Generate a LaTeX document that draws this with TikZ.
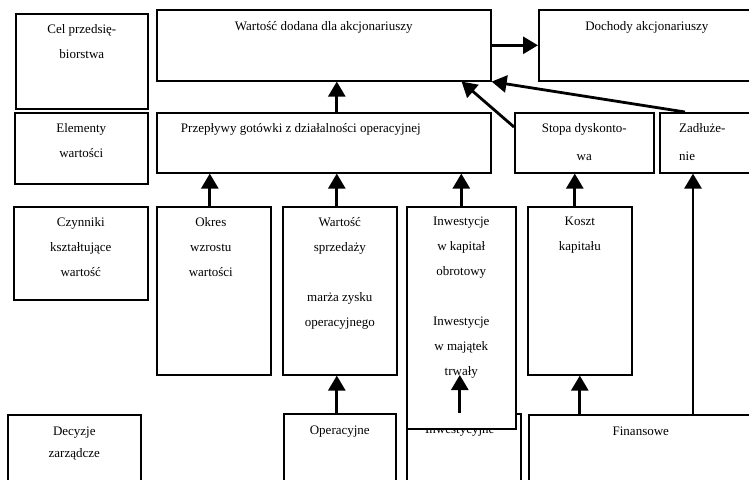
\documentclass[tikz,border=0pt]{standalone}
\usepackage{fontspec}
\setmainfont{Liberation Serif}
\usetikzlibrary{arrows.meta,positioning}

\tikzset{
  box/.style={draw, line width=1.6pt, fill=white, anchor=north west, inner sep=0pt},
  txt/.style={align=center, inner sep=0pt, font=\fontsize{13}{25}\selectfont},
  arr/.style={line width=2.8pt, -{Triangle[width=17pt,length=15pt]}}
}

\begin{document}
\begin{tikzpicture}[x=1pt, y=-1pt]
    \useasboundingbox (0,0) rectangle (749,479);
    \clip (0,0) rectangle (749,479);
    % left column
    \node[box, minimum width=132, minimum height=95] (cel) at (15,13) {};
    \node[txt, below=11pt of cel.north] (celtxt) {Cel przedsię-\\biorstwa};
    \node[box, minimum width=133, minimum height=71] (elementy) at (14,112) {};
    \node[txt, below=11pt of elementy.north] (elemtxt) {Elementy\\wartości};
    \node[box, minimum width=134, minimum height=93] (czynniki) at (13,206) {};
    \node[txt, below=11pt of czynniki.north] (czyntxt) {Czynniki\\kształtujące\\wartość};
    \node[box, minimum width=133, minimum height=100] (decyzje) at (7,414) {};
    \node[txt, font=\fontsize{13}{22}\selectfont, below=13pt of decyzje.north] (decytxt) {Decyzje\\zarządcze};
    % top rows
    \node[box, minimum width=334, minimum height=71] (wartosc) at (156,9) {};
    \node[txt, below=12pt of wartosc.north] (warttxt) {Wartość dodana dla akcjonariuszy};
    \node[box, minimum width=216, minimum height=71] (dochody) at (538,9) {};
    \node[txt, below=12pt of dochody.north] (dochtxt) {Dochody akcjonariuszy};
    \node[box, minimum width=334, minimum height=60] (przeplywy) at (156,112) {};
    \node[txt, below=11pt of przeplywy.north, xshift=-23pt] (przetxt) {Przepływy gotówki z działalności operacyjnej};
    \node[box, minimum width=139, minimum height=60] (stopa) at (514,112) {};
    \node[txt, font=\fontsize{13}{28}\selectfont, below=11pt of stopa.north] (stoptxt) {Stopa dyskonto-\\wa};
    \node[box, minimum width=100, minimum height=60] (zadl) at (659,112) {};
    \node[txt, font=\fontsize{13}{28}\selectfont, align=left, anchor=north west] (zadltxt)
      at ([xshift=20pt, yshift=-11pt]zadl.north west) {Zadłuże-\\nie};
    % value drivers
    \node[box, minimum width=114, minimum height=168] (okres) at (156,206) {};
    \node[txt, below=11pt of okres.north, xshift=-3pt] (okrtxt) {Okres\\wzrostu\\wartości};
    \node[box, minimum width=114, minimum height=168] (sprzedaz) at (282,206) {};
    \node[txt, below=11pt of sprzedaz.north] (sprztxt) {Wartość\\sprzedaży\\[25pt]marża zysku\\operacyjnego};
    \node[box, minimum width=224, minimum height=100] (finansowe) at (528,414) {};
    \node[txt, below=13pt of finansowe.north] (finatxt) {Finansowe};
    \node[box, minimum width=112, minimum height=100] (operacyjne) at (283,413) {};
    \node[txt, below=13pt of operacyjne.north] (opertxt) {Operacyjne};
    \node[box, minimum width=114, minimum height=100] (inwestycyjne) at (406,413) {};
    \node[txt, below=12pt of inwestycyjne.north, xshift=-4pt] (inwytxt) {Inwestycyjne};
    \node[box, minimum width=109, minimum height=222] (inwestycje) at (406,206) {};
    \node[txt, below=11pt of inwestycje.north] (inwetxt) {Inwestycje\\w kapitał\\obrotowy\\[25pt]Inwestycje\\w majątek\\trwały};
    \node[box, minimum width=104, minimum height=168] (koszt) at (527,206) {};
    \node[txt, below=11pt of koszt.north] (kosztxt) {Koszt\\kapitału};
    % connectors
    \coordinate (zadin) at ([xshift=34pt]zadl.south west);
    \draw[arr] ([xshift=-3pt]przeplywy.north -| sprzedaz.north) -- ([xshift=-3pt]wartosc.south -| sprzedaz.north);
    \draw[arr] (wartosc.east) -- (dochody.west);
    \draw[arr] ([yshift=-15pt]stopa.north west) -- ([xshift=-30pt]wartosc.south east);
    \draw[arr] ([xshift=26pt]zadl.north west) -- (wartosc.south east);
    \draw[arr] ([xshift=-4pt]okres.north) -- ([xshift=-4pt]okres.north |- przeplywy.south);
    \draw[arr] ([xshift=-3pt]sprzedaz.north) -- ([xshift=-3pt]sprzedaz.north |- przeplywy.south);
    \draw[arr] (inwestycje.north) -- (inwestycje.north |- przeplywy.south);
    \draw[arr] ([xshift=-5pt]koszt.north) -- ([xshift=-5pt]koszt.north |- stopa.south);
    \draw[arr] (zadin |- finansowe.north) -- (zadin);
    \draw[arr] ([xshift=-3pt]operacyjne.north) -- ([xshift=-3pt]operacyjne.north |- sprzedaz.south);
    \draw[arr] ([xshift=-4pt]inwestycyjne.north) -- ([xshift=-4pt, yshift=38pt]inwestycyjne.north);
    \draw[arr] (koszt.south |- finansowe.north) -- (koszt.south);
\end{tikzpicture}
\end{document}
